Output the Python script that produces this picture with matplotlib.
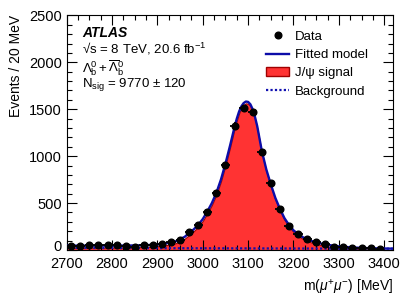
import numpy as np
import matplotlib
matplotlib.use("Agg")
import matplotlib.pyplot as plt
import matplotlib.transforms as mtransforms
from matplotlib.patches import Patch
from matplotlib.lines import Line2D
from matplotlib.ticker import MultipleLocator

plt.rcParams['font.family'] = ['Liberation Sans', 'DejaVu Sans']
plt.rcParams['mathtext.fontset'] = 'custom'
plt.rcParams['mathtext.rm'] = 'Liberation Sans'
plt.rcParams['mathtext.it'] = 'Liberation Sans:italic'
plt.rcParams['mathtext.bf'] = 'Liberation Sans:bold'

# data points, 20 MeV bins
bin_centre = [2710, 2730, 2750, 2770, 2790, 2810, 2830, 2850, 2870, 2890,
              2910, 2930, 2950, 2970, 2990, 3010, 3030, 3050, 3070, 3090,
              3110, 3130, 3150, 3170, 3190, 3210, 3230, 3250, 3270, 3290,
              3310, 3330, 3350, 3370, 3390]
counts = [46, 39, 53, 53, 49, 53, 43, 36, 57, 51,
          66, 88, 107, 187, 266, 410, 603, 905, 1323, 1510,
          1468, 1043, 713, 435, 260, 170, 115, 83, 61, 37,
          28, 21, 21, 21, 11]
count_err = [7, 6, 7, 7, 7, 7, 7, 6, 8, 7,
             8, 9, 10, 14, 16, 20, 25, 30, 36, 39,
             38, 32, 27, 21, 16, 13, 11, 9, 8, 6,
             5, 5, 5, 5, 3]

# fit curves
curve_mass = [2700, 2720, 2740, 2760, 2780, 2800, 2820, 2840, 2860, 2880,
              2900, 2920, 2940, 2960, 2970, 2980, 2990, 3000, 3010, 3020,
              3030, 3040, 3050, 3060, 3065, 3070, 3075, 3080, 3085, 3090,
              3095, 3100, 3105, 3110, 3115, 3120, 3125, 3130, 3140, 3150,
              3160, 3170, 3180, 3190, 3200, 3210, 3220, 3230, 3240, 3250,
              3260, 3270, 3280, 3290, 3300, 3320, 3340, 3360, 3380, 3400, 3420]
model = [47, 47, 47, 47, 47, 47, 47, 48, 50, 53,
         60, 72, 92, 140, 180, 220, 268, 330, 410, 500,
         610, 750, 920, 1110, 1210, 1310, 1400, 1475, 1530, 1565,
         1582, 1578, 1552, 1500, 1420, 1320, 1190, 1060, 860, 700,
         555, 440, 340, 268, 210, 170, 138, 114, 96, 82,
         70, 60, 52, 45, 39, 31, 25, 21, 18, 16, 15]
signal = [25, 25, 25.5, 25.5, 26, 26, 26, 27.5, 30, 33,
          40, 52, 72, 120, 160, 200, 248, 310, 390, 480,
          590, 730, 900, 1090, 1190, 1290, 1380, 1455, 1510, 1546,
          1563, 1559, 1533, 1481, 1401, 1301, 1171, 1041, 841, 681,
          537, 422, 322, 250, 192, 152, 120, 97, 79, 65,
          53, 43, 35, 28, 22, 15, 9, 5, 3, 1.5, 1]
bkg_mass = [2700, 3420]
bkg = [22, 14]

fig = plt.figure(figsize=(4.15, 2.98), dpi=100)
ax = fig.add_axes([0.1607, 0.161, 0.787, 0.789])

ax.fill_between(curve_mass, 0, signal, facecolor='#ff3333', edgecolor='#a00000', lw=0.8, zorder=1)
ax.plot(bkg_mass, bkg, color='#1010b0', ls=(0, (1.0, 1.0)), lw=1.6, zorder=2)
ax.plot(curve_mass, model, color='#0c0ca8', lw=1.7, zorder=3)
ax.errorbar(bin_centre, counts, yerr=count_err, xerr=10, fmt='o', color='black',
            ms=4.8, elinewidth=1.3, capsize=0, zorder=4)

ax.set_xlim(2700, 3420)
ax.set_ylim(0, 2505)
ax.xaxis.set_major_locator(MultipleLocator(100))
ax.xaxis.set_minor_locator(MultipleLocator(25))
ax.yaxis.set_major_locator(MultipleLocator(500))
ax.yaxis.set_minor_locator(MultipleLocator(100))
ax.tick_params(which='both', direction='in', top=True, right=True, labelsize=10.5, width=0.8)
ax.tick_params(which='major', length=7)
ax.tick_params(which='minor', length=3.5)
ax.tick_params(axis='x', pad=5)
ax.tick_params(axis='y', pad=3.5)
for s in ax.spines.values():
    s.set_linewidth(0.8)

# nudge the "0" label up a little so it clears "2700"
fig.canvas.draw()
shift = mtransforms.ScaledTranslation(0, 3 / 72, fig.dpi_scale_trans)
for lab in ax.get_yticklabels():
    if lab.get_text() == '0':
        lab.set_transform(lab.get_transform() + shift)

ax.set_xlabel(r'm($\mu^{+}\mu^{-}$) [MeV]', fontsize=10, loc='right', labelpad=5)
ax.set_ylabel('Events / 20 MeV', fontsize=10, loc='top', labelpad=4)

ax.text(0.048, 0.925, 'ATLAS', transform=ax.transAxes, fontsize=10, fontweight='bold',
        fontstyle='italic', va='center')
ax.text(0.048, 0.855, '\u221as = 8 TeV, 20.6 fb$^{-1}$', transform=ax.transAxes,
        fontsize=9.5, va='center')
ax.text(0.048, 0.775, r'$\Lambda_{\mathrm{b}}^{0} + \overline{\Lambda}_{\mathrm{b}}^{0}$',
        transform=ax.transAxes, fontsize=9.5, va='center')
ax.text(0.048, 0.705, r'N$_{\mathrm{sig}}$ = 9770 $\pm$ 120', transform=ax.transAxes,
        fontsize=9.5, va='center')

handles = [Line2D([], [], marker='o', color='black', ls='none', ms=4.8),
           Line2D([], [], color='#0c0ca8', lw=1.7),
           Patch(facecolor='#ff3333', edgecolor='#a00000', lw=1.0),
           Line2D([], [], color='#1010b0', ls=(0, (1.0, 1.0)), lw=1.6)]
labels = ['Data', 'Fitted model', 'J/\u03c8 signal', 'Background']
ax.legend(handles, labels, loc='upper left', bbox_to_anchor=(0.595, 0.955), frameon=False,
          fontsize=9.5, handlelength=1.7, handletextpad=0.45, labelspacing=0.45,
          borderaxespad=0)

fig.savefig('out.png', dpi=100)
